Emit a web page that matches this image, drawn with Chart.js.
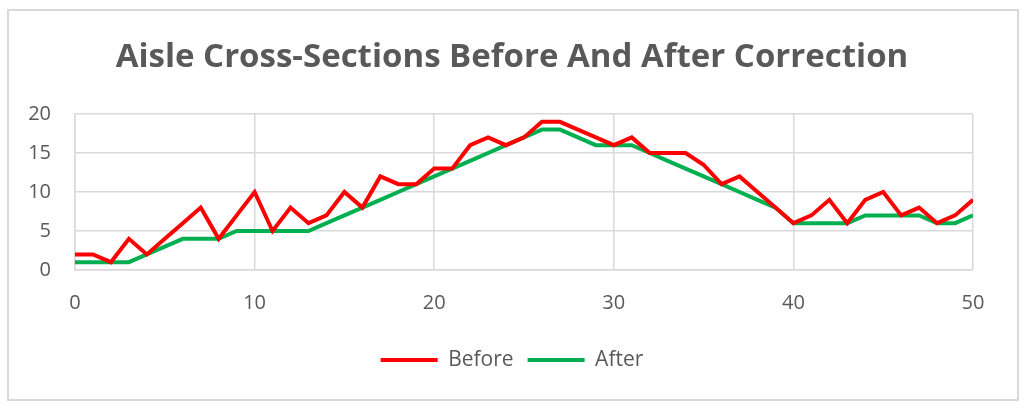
<!DOCTYPE html>
<html>
<head>
<meta charset="utf-8">
<script src="https://cdn.jsdelivr.net/npm/chart.js@4/dist/chart.umd.min.js"></script>
<style>
  html, body { margin: 0; padding: 0; background: #fff; }
  #wrap { position: relative; width: 1024px; height: 410px; }
  #frame { position: absolute; left: 7px; top: 9px; width: 1008px; height: 388px; border: 2px solid #d9d9d9; }
  canvas { position: absolute; left: 0; top: 0; }
</style>
</head>
<body>
<div id="wrap">
  <div id="frame"></div>
  <canvas id="chart" width="1024" height="410"></canvas>
</div>
<script>
const positions = [
  0, 1, 2, 3, 4, 5, 6, 7, 8, 9, 10, 11, 12, 13, 14, 15, 16, 17, 18, 19, 20, 21, 22, 23, 24, 25,
  26, 27, 28, 29, 30, 31, 32, 33, 34, 35, 36, 37, 38, 39, 40, 41, 42, 43, 44, 45, 46, 47, 48, 49, 50,
];
const before = [
  2, 2, 1, 4, 2, 4, 6, 8, 4, 7, 10, 5, 8, 6, 7, 10, 8, 12, 11, 11, 13, 13, 16, 17, 16, 17,
  19, 19, 18, 17, 16, 17, 15, 15, 15, 13.5, 11, 12, 10, 8, 6, 7, 9, 6, 9, 10, 7, 8, 6, 7, 9,
];
const after = [
  1, 1, 1, 1, 2, 3, 4, 4, 4, 5, 5, 5, 5, 5, 6, 7, 8, 9, 10, 11, 12, 13, 14, 15, 16, 17,
  18, 18, 17, 16, 16, 16, 15, 14, 13, 12, 11, 10, 9, 8, 6, 6, 6, 6, 7, 7, 7, 7, 6, 6, 7,
];
const seriesNames = ['Before', 'After'];
const xTicks = [0, 10, 20, 30, 40, 50];
const yTicks = [0, 5, 10, 15, 20];

const grey = '#595959';
const gridColor = '#d9d9d9';
const font = '"Open Sans", sans-serif';

const toPoints = (ys) => positions.map((x, i) => ({ x, y: ys[i] }));

new Chart(document.getElementById('chart'), {
  type: 'line',
  data: {
    datasets: [
      {
        label: seriesNames[0],
        data: toPoints(before),
        borderColor: '#ff0000',
        backgroundColor: '#ff0000',
        borderWidth: 4,
        pointRadius: 0,
        pointStyle: 'line',
        tension: 0,
      },
      {
        label: seriesNames[1],
        data: toPoints(after),
        borderColor: '#00b050',
        backgroundColor: '#00b050',
        borderWidth: 4,
        pointRadius: 0,
        pointStyle: 'line',
        tension: 0,
      },
    ],
  },
  options: {
    responsive: false,
    animation: false,
    layout: { padding: { left: 0, right: 0, top: 0, bottom: 29.5 } },
    plugins: {
      title: {
        display: true,
        text: 'Aisle Cross-Sections Before And After Correction',
        color: grey,
        font: { family: font, size: 33, weight: 'bold' },
        padding: { top: 38, bottom: 36.4 },
      },
      legend: {
        position: 'bottom',
        labels: {
          color: grey,
          font: { family: font, size: 21 },
          usePointStyle: true,
          pointStyleWidth: 57,
          boxHeight: 21,
          padding: 14,
        },
      },
      tooltip: { enabled: false },
    },
    scales: {
      x: {
        type: 'linear',
        min: xTicks[0],
        max: xTicks[xTicks.length - 1],
        afterBuildTicks: (axis) => { axis.ticks = xTicks.map((v) => ({ value: v })); },
        afterFit: (axis) => { axis.height = 65.5; },
        grid: { color: gridColor, lineWidth: 1.5, drawTicks: false },
        border: { color: gridColor, width: 1.5 },
        ticks: { color: grey, font: { family: font, size: 20 }, padding: 21 },
      },
      y: {
        min: yTicks[0],
        max: yTicks[yTicks.length - 1],
        afterBuildTicks: (axis) => { axis.ticks = yTicks.map((v) => ({ value: v })); },
        afterFit: (axis) => { axis.width = 75; },
        grid: { color: gridColor, lineWidth: 1.5, drawTicks: false },
        border: { color: gridColor, width: 1.5 },
        ticks: { color: grey, font: { family: font, size: 20 }, padding: 24 },
      },
      // empty right-hand gutter so title and legend centre on the full width
      gutter: {
        type: 'linear',
        position: 'right',
        afterFit: (axis) => { axis.width = 51; },
        grid: { display: false },
        border: { display: false },
        ticks: { display: false },
      },
    },
  },
});
</script>
</body>
</html>
